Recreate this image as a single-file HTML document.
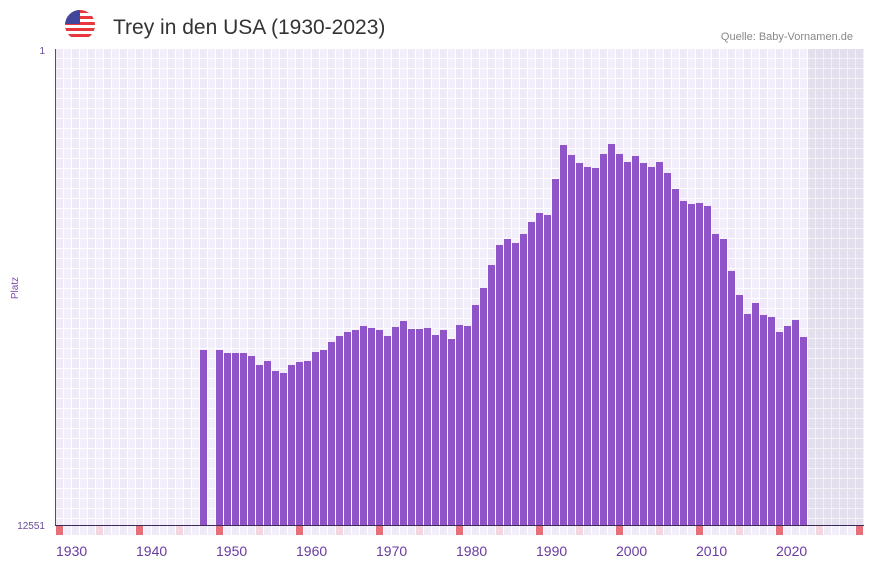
<!DOCTYPE html>
<html><head><meta charset="utf-8"><style>
body{margin:0;background:#fff;width:873px;height:567px;overflow:hidden;font-family:"Liberation Sans",sans-serif}
</style></head><body>
<svg id="s" width="873" height="567" xmlns="http://www.w3.org/2000/svg">
<defs>
<pattern id="g" x="56" y="49" width="16" height="10" patternUnits="userSpaceOnUse">
<rect width="16" height="10" fill="#fff"/>
<rect x="0" y="0" width="7" height="9" fill="#efe9f8"/>
<rect x="8" y="0" width="7" height="9" fill="#f3effa"/>
</pattern>
<pattern id="g2" x="56" y="49" width="8" height="10" patternUnits="userSpaceOnUse">
<rect width="8" height="10" fill="#f3f1f6"/>
<rect x="0" y="0" width="7" height="9" fill="#e3dfec"/>
</pattern>
<clipPath id="c"><circle cx="80" cy="25" r="15"/></clipPath>
</defs>
<g clip-path="url(#c)">
<rect x="65" y="10" width="30" height="30" fill="#fff"/>
<rect x="65" y="10" width="30" height="3" fill="#e8383d"/>
<rect x="65" y="16" width="30" height="3" fill="#e8383d"/>
<rect x="65" y="22" width="30" height="3" fill="#e8383d"/>
<rect x="65" y="28" width="30" height="3" fill="#e8383d"/>
<rect x="65" y="34" width="30" height="3" fill="#e8383d"/>
<rect x="65" y="10" width="15" height="14" fill="#41479b"/>
</g>
<text x="113" y="34" font-size="21" fill="#333" font-family="'Liberation Sans',sans-serif">Trey in den USA (1930-2023)</text>
<text x="853" y="40" font-size="11" fill="#888" text-anchor="end">Quelle: Baby-Vornamen.de</text>
<rect x="56" y="49" width="808" height="476" fill="url(#g)"/>
<rect x="808" y="49" width="56" height="476" fill="url(#g2)"/>
<g id="bars" fill="#8e54c8"></g>
<line x1="55.5" y1="49" x2="55.5" y2="525" stroke="#6a3a9c" stroke-width="1"/>
<line x1="55" y1="525.5" x2="864" y2="525.5" stroke="#3a2a5a" stroke-width="1"/>
<g id="marks"></g>
<text x="45" y="54" font-size="10" fill="#6a4a9a" text-anchor="end">1</text>
<text x="45" y="529" font-size="10" fill="#6a4a9a" text-anchor="end">12551</text>
<text x="18" y="288" font-size="10" fill="#7a4ab0" text-anchor="middle" transform="rotate(-90 18 288)">Platz</text>
<g id="lbl" font-size="14" fill="#6a3aa0"></g>
</svg>
<script>
var tops={1948:350,1950:350,1951:353,1952:353,1953:353,1954:356,1955:365,1956:361,1957:371,1958:373,1959:365,1960:362,1961:361,1962:352,1963:350,1964:342,1965:336,1966:332,1967:330,1968:326,1969:328,1970:330,1971:336,1972:327,1973:321,1974:329,1975:329,1976:328,1977:335,1978:330,1979:339,1980:325,1981:326,1982:305,1983:288,1984:265,1985:245,1986:239,1987:243,1988:234,1989:222,1990:213,1991:215,1992:179,1993:145,1994:155,1995:163,1996:167,1997:168,1998:154,1999:144,2000:154,2001:162,2002:156,2003:163,2004:167,2005:162,2006:173,2007:189,2008:201,2009:204,2010:203,2011:206,2012:234,2013:239,2014:271,2015:295,2016:314,2017:303,2018:315,2019:317,2020:332,2021:326,2022:320,2023:337};
var NS="http://www.w3.org/2000/svg",b=document.getElementById('bars'),m=document.getElementById('marks'),l=document.getElementById('lbl');
for(var y in tops){var r=document.createElementNS(NS,'rect');var x=56+(y-1930)*8;r.setAttribute('x',x);r.setAttribute('y',tops[y]);r.setAttribute('width',7);r.setAttribute('height',525-tops[y]);b.appendChild(r);}
for(var y=1930;y<=2030;y++){var x=56+(y-1930)*8;var r=document.createElementNS(NS,'rect');r.setAttribute('x',x);r.setAttribute('y',526);r.setAttribute('width',7);r.setAttribute('height',9);
var c=y%10==0?'#e5707a':(y%5==0?'#f4d6e0':(y%2?'#f3effa':'#efe9f8'));r.setAttribute('fill',c);m.appendChild(r);
if(y%10==0&&y<2030){var t=document.createElementNS(NS,'text');t.setAttribute('x',x);t.setAttribute('y',556);t.textContent=y;l.appendChild(t);}}
</script>
</body></html>
